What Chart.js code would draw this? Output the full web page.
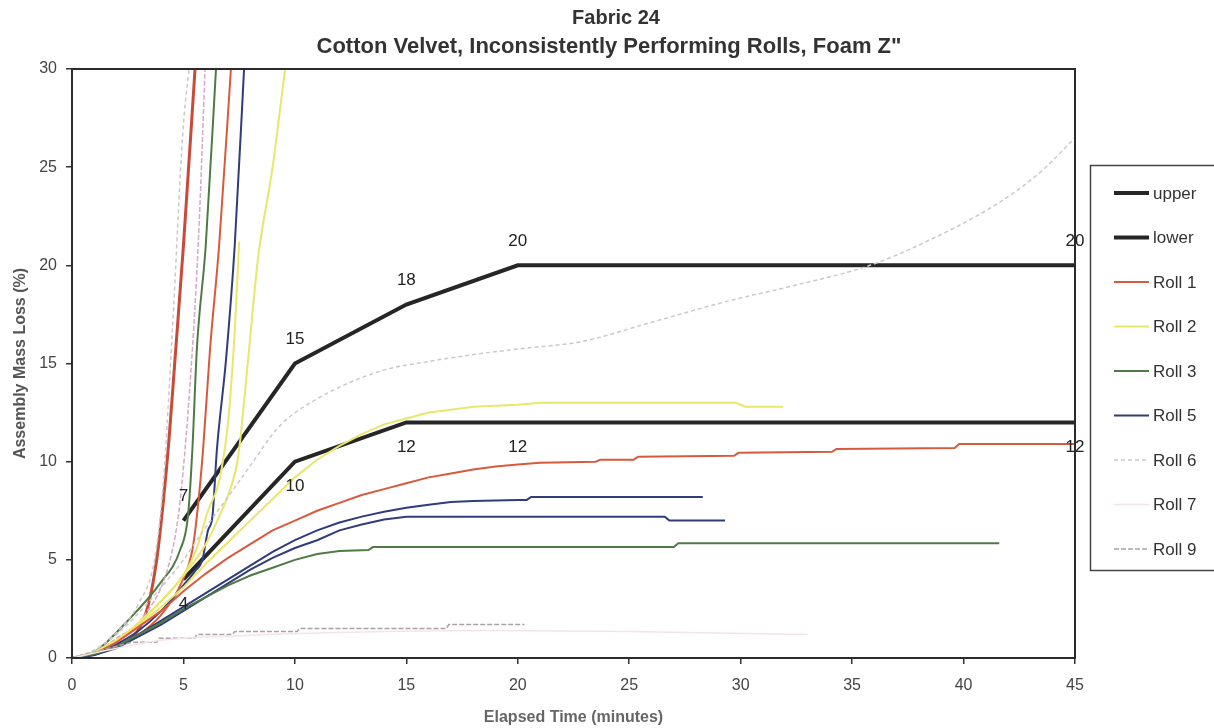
<!DOCTYPE html>
<html><head><meta charset="utf-8">
<script src="https://cdn.jsdelivr.net/npm/chart.js@4.4.1/dist/chart.umd.min.js"></script>
<style>html,body{margin:0;padding:0;background:#fff}</style>
</head><body>
<canvas id="c" width="1214" height="728"></canvas>
<script>
// ---- tick labels / titles ----
const titleLines = ['Fabric 24', 'Cotton Velvet, Inconsistently Performing Rolls, Foam Z"'];
const xAxisTitle = 'Elapsed Time (minutes)';
const yAxisTitle = 'Assembly Mass Loss (%)';
const xTicks = [0, 5, 10, 15, 20, 25, 30, 35, 40, 45];
const yTicks = [0, 5, 10, 15, 20, 25, 30];
const legendNames = ['upper', 'lower', 'Roll 1', 'Roll 2', 'Roll 3', 'Roll 5', 'Roll 6', 'Roll 7', 'Roll 9'];

// ---- envelope lines ----
const upperT = [5, 10, 15, 20, 45];
const upperY = [7, 15, 18, 20, 20];
const lowerT = [5, 10, 15, 20, 45];
const lowerY = [4, 10, 12, 12, 12];

// ---- Roll 1 ----
const roll1aT = [0, 1, 2, 2.9, 3.4, 3.8, 4.1, 4.35, 4.62, 5.0, 5.52];
const roll1aY = [0, 0.2, 0.6, 1.3, 2.6, 5, 8, 11.1, 15.2, 21, 30];
const roll1bT = [0, 1, 2, 3, 4, 4.9, 5.4, 5.6, 5.88, 6.19, 6.6, 7.13];
const roll1bY = [0, 0.2, 0.6, 1.2, 2.2, 3.8, 5.5, 7.2, 10.6, 15.7, 21, 30];
const roll1cT = [0, 1, 2, 3, 4, 5, 6, 7, 8, 9, 10, 11, 12, 13, 14, 15, 16, 17, 18, 19, 20, 21, 23.5, 23.7, 25.2, 25.4, 29.7, 29.9, 34.1, 34.3, 39.6, 39.8, 45];
const roll1cY = [0, 0.2, 0.8, 1.6, 2.4, 3.4, 4.3, 5.1, 5.8, 6.5, 7.0, 7.5, 7.9, 8.3, 8.6, 8.9, 9.2, 9.4, 9.6, 9.75, 9.85, 9.95, 10.0, 10.1, 10.1, 10.25, 10.3, 10.45, 10.5, 10.65, 10.7, 10.9, 10.9];

// ---- Roll 2 ----
const roll2aT = [0, 1, 2, 3, 4, 5.1, 5.6, 6.1, 6.6, 7.0, 7.3, 7.5];
const roll2aY = [0, 0.3, 0.9, 1.8, 2.9, 4.4, 5.6, 7.5, 9, 12, 16.6, 21.2];
const roll2bT = [0, 1, 2, 3, 4, 5, 6, 6.6, 7.1, 7.45, 7.9, 8.35, 9, 9.56];
const roll2bY = [0, 0.3, 0.9, 1.8, 2.9, 4.2, 5.8, 7.2, 8.6, 10.2, 15.2, 20.4, 25, 30];
const roll2cT = [0, 1, 2, 3, 4, 5, 6, 7, 8, 9, 10, 11, 12, 13, 14, 15, 16, 17, 18, 19, 20, 21, 29.8, 30.2, 31.9];
const roll2cY = [0, 0.3, 0.9, 1.7, 2.6, 3.6, 4.8, 5.9, 7.0, 8.1, 9.2, 10.1, 10.8, 11.4, 11.9, 12.2, 12.5, 12.65, 12.8, 12.85, 12.9, 13.0, 13.0, 12.8, 12.8];

// ---- Roll 3 ----
const roll3aT = [0, 1, 2.5, 3.95, 4.85, 5.2, 5.4, 5.6, 6.0, 6.46];
const roll3aY = [0, 0.3, 1.9, 3.8, 5.5, 7.2, 10.6, 15.7, 21, 30];
const roll3bT = [0, 1, 2, 3, 4, 5, 6, 7, 8, 9, 10, 11, 12, 13.3, 13.5, 27.0, 27.2, 41.6];
const roll3bY = [0, 0.2, 0.6, 1.2, 1.8, 2.5, 3.1, 3.7, 4.2, 4.6, 5.0, 5.3, 5.45, 5.5, 5.65, 5.65, 5.85, 5.85];

// ---- Roll 5 ----
const roll5aT = [0, 1, 2, 3, 4, 5, 5.5, 5.85, 6.1, 6.3, 6.5, 6.91, 7.3, 7.72];
const roll5aY = [0, 0.2, 0.7, 1.4, 2.4, 3.7, 4.4, 5.0, 6.5, 7.2, 10.6, 15.2, 21, 30];
const roll5bT = [0, 1, 2, 3, 4, 5, 6, 7, 8, 9, 10, 11, 12, 13, 14, 15, 16, 17, 18, 20, 20.4, 20.6, 28.3];
const roll5bY = [0, 0.15, 0.6, 1.2, 1.9, 2.6, 3.3, 4.0, 4.7, 5.4, 6.0, 6.5, 6.9, 7.2, 7.45, 7.65, 7.8, 7.95, 8.0, 8.05, 8.05, 8.2, 8.2];
const roll5cT = [0, 1, 2, 3, 4, 5, 6, 7, 8, 9, 10, 11, 12, 13, 14, 15, 26.6, 26.8, 29.3];
const roll5cY = [0, 0.15, 0.5, 1.1, 1.7, 2.4, 3.1, 3.8, 4.5, 5.1, 5.6, 6.0, 6.5, 6.8, 7.05, 7.2, 7.2, 7.0, 7.0];

// ---- Roll 6 ----
const roll6aT = [0, 1, 2, 3, 3.7, 4.1, 4.5, 4.98, 5.25];
const roll6aY = [0, 0.4, 1.3, 2.8, 5, 9, 16.6, 26.9, 30];
const roll6bT = [0, 1, 2, 3, 4, 5, 5.9, 7, 8, 9.3, 11, 13.8, 16, 18.3, 20.5, 22.8, 26, 29.5, 32.5, 35.8, 38.5, 41.6, 43.5, 45];
const roll6bY = [0, 0.4, 1.2, 2.3, 3.6, 5, 6.5, 8.2, 9.8, 11.8, 13.2, 14.6, 15.1, 15.5, 15.8, 16.1, 17.1, 18.2, 19.0, 20.0, 21.3, 23.2, 24.8, 26.5];

// ---- Roll 7 ----
const roll7T = [0, 2, 4, 7.8, 12, 19, 25, 33];
const roll7Y = [0, 0.5, 0.9, 1.15, 1.3, 1.4, 1.35, 1.2];

// ---- Roll 9 ----
const roll9aT = [0, 1, 2, 3.2, 4.4, 4.85, 5.4, 5.7, 5.97];
const roll9aY = [0, 0.3, 1.0, 2.1, 5, 8, 15.7, 22, 30];
const roll9bT = [0, 1, 2, 2.7, 3.8, 3.9, 5.5, 5.6, 7.2, 7.3, 10.1, 10.2, 16.8, 16.9, 20.3];
const roll9bY = [0, 0.3, 0.6, 0.8, 0.8, 1.0, 1.0, 1.2, 1.2, 1.35, 1.35, 1.5, 1.5, 1.7, 1.7];

const pts = (T, Y) => T.map((t, i) => ({x: t, y: Y[i]}));

const styles = {
  upper:   {color: '#262626', width: 4, dash: []},
  lower:   {color: '#262626', width: 4, dash: []},
  'Roll 1': {color: '#d85a3c', width: 2, dash: []},
  'Roll 2': {color: '#e9e66c', width: 2, dash: []},
  'Roll 3': {color: '#4f7a45', width: 2, dash: []},
  'Roll 5': {color: '#303c7c', width: 2, dash: []},
  'Roll 6': {color: '#c9c9c9', width: 1.5, dash: [4, 3]},
  'Roll 7': {color: '#f4e4ea', width: 1.5, dash: []},
  'Roll 9': {color: '#aca0a6', width: 1.5, dash: [5, 2]}
};

function ds(group, T, Y, extra) {
  const s = styles[group];
  return Object.assign({
    label: group, legendGroup: group,
    data: pts(T, Y),
    borderColor: s.color, backgroundColor: s.color,
    borderWidth: s.width, borderDash: s.dash,
    pointRadius: 0, fill: false, tension: 0
  }, extra || {});
}
const smooth = {cubicInterpolationMode: 'monotone'};

const datasets = [
  ds('Roll 7', roll7T, roll7Y, smooth),
  ds('Roll 9', roll9bT, roll9bY),
  ds('Roll 6', roll6bT, roll6bY, smooth),
  ds('Roll 6', roll6aT, roll6aY, smooth),
  ds('Roll 3', roll3bT, roll3bY),
  ds('Roll 5', roll5cT, roll5cY),
  ds('Roll 5', roll5bT, roll5bY),
  ds('Roll 1', roll1cT, roll1cY),
  ds('Roll 2', roll2cT, roll2cY),
  ds('Roll 2', roll2aT, roll2aY, smooth),
  ds('Roll 2', roll2bT, roll2bY, smooth),
  ds('Roll 9', roll9aT, roll9aY, Object.assign({borderColor: '#d6a9c6'}, smooth)),
  ds('Roll 3', roll3aT, roll3aY, smooth),
  ds('Roll 5', roll5aT, roll5aY, smooth),
  ds('Roll 1', roll1bT, roll1bY, smooth),
  ds('Roll 1', roll1aT, roll1aY, Object.assign({borderColor: '#c84a38', borderWidth: 3}, smooth)),
  ds('upper', upperT, upperY, {pointLabelPos: 'above'}),
  ds('lower', lowerT, lowerY, {pointLabelPos: 'below'})
];

const FONT = '"Liberation Sans", Arial, sans-serif';

const decor = {
  id: 'decor',
  afterDatasetsDraw(chart) {
    const ctx = chart.ctx;
    const a = chart.chartArea;
    ctx.save();
    ctx.strokeStyle = '#2b2b2b';
    ctx.lineWidth = 2;
    ctx.strokeRect(a.left, a.top, a.right - a.left, a.bottom - a.top);
    ctx.fillStyle = '#222';
    ctx.font = '17px ' + FONT;
    ctx.textAlign = 'center';
    ctx.textBaseline = 'middle';
    chart.data.datasets.forEach((d, i) => {
      if (!d.pointLabelPos) return;
      const meta = chart.getDatasetMeta(i);
      meta.data.forEach((p, j) => {
        const off = d.pointLabelPos === 'above' ? -24 : 25;
        ctx.fillText(String(d.data[j].y), p.x, p.y + off);
      });
    });
    ctx.restore();
  },
  afterDraw(chart) {
    const ctx = chart.ctx;
    ctx.save();
    ctx.fillStyle = '#333';
    ctx.textAlign = 'center';
    ctx.textBaseline = 'middle';
    ctx.font = 'bold 20px ' + FONT;
    ctx.fillText(titleLines[0], 616, 18);
    ctx.font = 'bold 22px ' + FONT;
    ctx.fillText(titleLines[1], 609, 47);
    ctx.strokeStyle = '#444';
    ctx.lineWidth = 1.5;
    ctx.strokeRect(1090.5, 165.5, 140, 405);
    ctx.font = '17px ' + FONT;
    ctx.textAlign = 'left';
    legendNames.forEach((name, k) => {
      const y = 193 + k * 44.5;
      const d = chart.data.datasets.find(x => x.legendGroup === name);
      const s = styles[name];
      ctx.beginPath();
      ctx.setLineDash(s.dash);
      ctx.strokeStyle = s.color;
      ctx.lineWidth = s.width;
      ctx.moveTo(1114, y);
      ctx.lineTo(1149, y);
      ctx.stroke();
      ctx.setLineDash([]);
      ctx.fillStyle = '#333';
      ctx.fillText(d ? d.label : name, 1153, y + 1);
    });
    ctx.restore();
  }
};

new Chart(document.getElementById('c'), {
  type: 'line',
  data: {datasets},
  options: {
    responsive: false,
    animation: false,
    layout: {padding: {top: 69, right: 139, left: 0, bottom: 0}},
    plugins: {legend: {display: false}, title: {display: false}, tooltip: {enabled: false}},
    scales: {
      x: {
        type: 'linear', min: 0, max: 45,
        afterFit(s) { s.height = 70; },
        afterBuildTicks(s) { s.ticks = xTicks.map(v => ({value: v})); },
        grid: {drawOnChartArea: false, drawTicks: true, tickLength: 6, color: '#333', lineWidth: 1.5},
        border: {display: true, color: '#2b2b2b', width: 2},
        ticks: {color: '#444', font: {family: FONT, size: 16}, padding: 12, maxRotation: 0},
        title: {display: true, text: xAxisTitle, color: '#666', font: {family: FONT, size: 16, weight: 'bold'}, padding: {top: 0, bottom: 1}}
      },
      y: {
        type: 'linear', min: 0, max: 30,
        afterFit(s) { s.width = 72; },
        afterBuildTicks(s) { s.ticks = yTicks.map(v => ({value: v})); },
        grid: {drawOnChartArea: false, drawTicks: true, tickLength: 6, color: '#333', lineWidth: 1.5},
        border: {display: true, color: '#2b2b2b', width: 2},
        ticks: {color: '#444', font: {family: FONT, size: 16}, padding: 9},
        title: {display: true, text: yAxisTitle, color: '#555', font: {family: FONT, size: 16, weight: 'bold'}, padding: {top: 11, bottom: 0}}
      }
    }
  },
  plugins: [decor]
});
</script>
</body></html>
